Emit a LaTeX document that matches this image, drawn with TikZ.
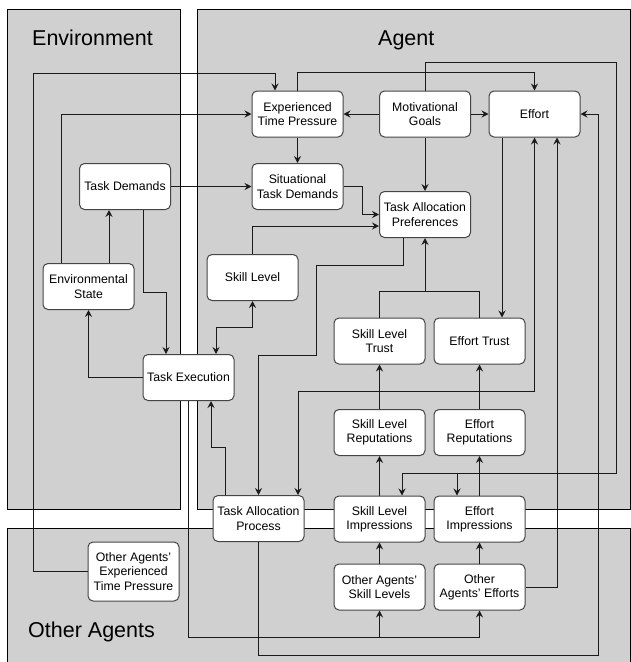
\documentclass[tikz,border=0pt]{standalone}
\usepackage{fontspec}
\setmainfont{Liberation Sans}
\usetikzlibrary{arrows.meta,calc}
\definecolor{panelgray}{HTML}{D0D0D0}
\definecolor{boxline}{HTML}{444444}
\definecolor{conline}{HTML}{1A1A1A}
\tikzset{
  panel/.style={fill=panelgray,draw=black,line width=1pt},
  box/.style={rectangle,rounded corners=5pt,draw=boxline,fill=white,line width=1pt,
    minimum width=91pt,minimum height=46pt,inner sep=1pt,align=center,
    font=\fontsize{12.3pt}{14.3pt}\selectfont},
  title/.style={anchor=base west,inner sep=0pt,font=\fontsize{21.5pt}{24pt}\selectfont},
  con/.style={draw=conline,line width=1pt},
  arr/.style={con,-{Stealth[length=7pt,width=7pt,inset=2.5pt]}},
  dblarr/.style={con,{Stealth[length=7pt,width=7pt,inset=2.5pt]}-{Stealth[length=7pt,width=7pt,inset=2.5pt]}}
}
\begin{document}
\begin{tikzpicture}[x=1pt,y=-1pt]
\useasboundingbox (0,0) rectangle (630,662);
\fill[white] (0,0) rectangle (630,662);
% panels
\draw[panel] (7,9) rectangle (180,509);
\draw[panel] (197,9) rectangle (630,509);
\draw[panel] (7,528) rectangle (630,662);
\node[title] (tenv) at (32,45) {Environment};
\node[title] (tag) at (378,45) {Agent};
\node[title] (toa) at (28,637) {Other Agents};
% nodes
\node[box] (etp) at (297.5,114) {Experienced\\Time Pressure};
\node[box] (mg) at (425,114) {Motivational\\Goals};
\node[box] (eff) at (534.5,114) {Effort};
\node[box] (std) at (297.5,186.5) {Situational\\Task Demands};
\node[box] (td) at (125,186.5) {Task Demands};
\node[box] (tap) at (425,214.5) {Task Allocation\\Preferences};
\node[box] (sl) at (252.5,277.5) {Skill Level};
\node[box] (es) at (88.5,286.5) {Environmental\\State};
\node[box] (te) at (188.5,377.5) {Task Execution};
\node[box] (slt) at (379.5,341) {Skill Level\\Trust};
\node[box] (et) at (479.5,341) {Effort Trust};
\node[box] (slr) at (379.5,432.5) {Skill Level\\Reputations};
\node[box] (er) at (479.5,432.5) {Effort\\Reputations};
\node[box] (sli) at (379.5,519) {Skill Level\\Impressions};
\node[box] (ei) at (479.5,519) {Effort\\Impressions};
\node[box] (oasl) at (379.5,587) {Other Agents'\\Skill Levels};
\node[box] (oae) at (479.5,587) {Other\\Agents' Efforts};
\node[box] (tapr) at (258.5,518.5) {Task Allocation\\Process};
\node[box,minimum height=59pt] (oaetp) at (133.5,571.5) {Other Agents'\\Experienced\\Time Pressure};
\coordinate (br) at (457,473);
\coordinate (jn) at (425,291);
% connectors
\draw[arr] (oaetp.west) -| (33,73) -| ([xshift=-22.5pt]etp.north);
\draw[arr] ([xshift=-27.5pt]es.north) |- (etp.west);
\draw[arr] ([xshift=20.5pt]es.north) -- ([xshift=20.5pt]es.north |- td.south);
\draw[arr] ([xshift=18pt]td.south) -- ++(0,82) -| ([xshift=-22.5pt]te.north);
\draw[arr] (te.west) -| (es.south);
\draw[arr] (td.east) -- (std.west);
\draw[arr] (etp.south) -- (std.north);
\draw[arr] (mg.west) -- (etp.east);
\draw[arr] (mg.east) -- (eff.west);
\draw[arr] (mg.south) -- (tap.north);
\draw[arr] (std.east) -- (362,186.5) |- (tap.west);
\draw[arr] (sl.north) |- (tap.west |- 0,226);
\draw[arr] (etp.north) -- ++(0,-18) -| (eff.north);
\draw[arr] (mg.north) -- ++(0,-28) -| (br -| 616,0) -| ([xshift=22.5pt]sli.north);
\draw[arr] (br) -- ([xshift=-22.5pt]ei.north);
\draw[arr] ([xshift=-32.5pt]eff.south) -- ([xshift=-32.5pt]eff.south |- et.north);
\draw[dblarr] ([xshift=39.5pt]tapr.north) |- (eff.south |- 0,391) -- (eff.south);
\draw[arr] (oae.east) -| ([xshift=22.5pt]eff.south);
\draw[arr] (tapr.south) |- (598,655) |- (eff.east);
\draw[arr] ([xshift=-22pt]tap.south) -- ++(0,27) -| (316,355) -| (tapr.north);
\draw[arr] ([xshift=-33.5pt]tapr.north) -- ++(0,-48) -| ([xshift=22.5pt]te.south);
\draw[dblarr] ([xshift=27.5pt]te.north) -- ++(0,-27) -| (sl.south);
\draw[con] (slt.north) |- (jn);
\draw[con] (et.north) |- (jn);
\draw[arr] (jn) -- (tap.south);
\draw[arr] (slr.north) -- (slt.south);
\draw[arr] (er.north) -- (et.south);
\draw[arr] (sli.north) -- (slr.south);
\draw[arr] (ei.north) -- (er.south);
\draw[arr] (oasl.north) -- (sli.south);
\draw[arr] (oae.north) -- (ei.south);
\draw[arr] (te.south) |- (oae.south |- 0,637) -- (oae.south);
\draw[arr] (oasl.south |- 0,637) -- (oasl.south);
\end{tikzpicture}
\end{document}
